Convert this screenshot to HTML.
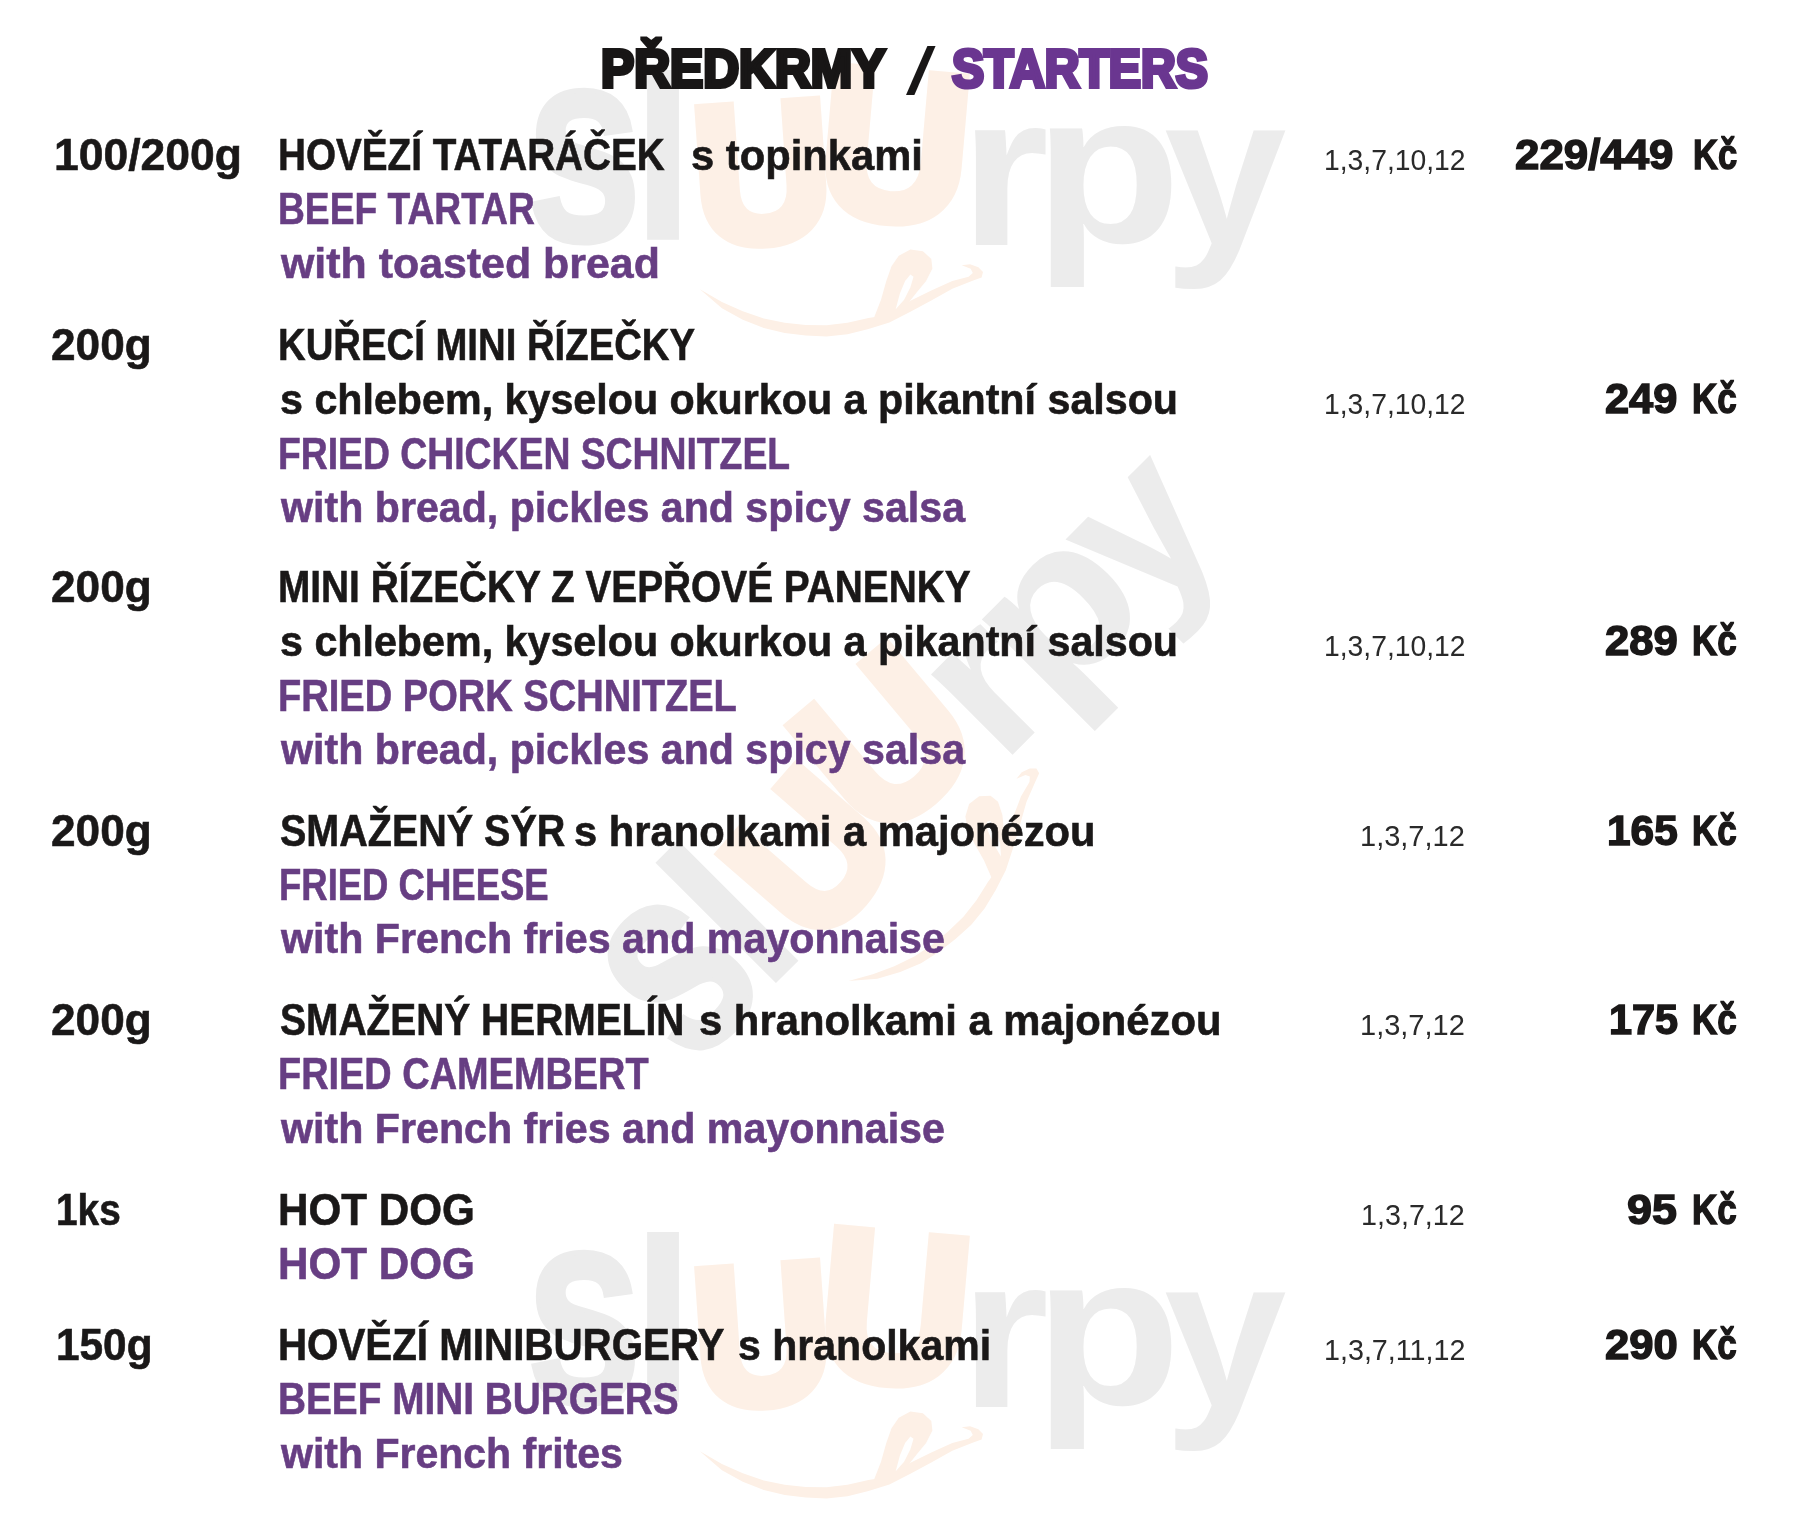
<!DOCTYPE html>
<html lang="cs">
<head>
<meta charset="utf-8">
<title>Předkrmy / Starters</title>
<style>
html,body{margin:0;padding:0;background:#fff}
body{width:1806px;height:1528px;position:relative;overflow:hidden;font-family:"Liberation Sans",sans-serif}
.i{position:absolute;white-space:pre;line-height:1;transform-origin:0 0;font-weight:700;margin:0}
.n,.nl,.w,.pr{color:#1a1818}
.p,.pl{color:#673e83}
.n,.nl{-webkit-text-stroke:0.6px #1a1818}
.p,.pl{-webkit-text-stroke:0.6px #673e83}
.a{color:#2a2a2a;font-weight:400}
.t,.ts{color:#181616;-webkit-text-stroke:4.2px #181616}
.ts{-webkit-text-stroke:0;font-weight:400}
.tp{color:#6a3690;-webkit-text-stroke:4.2px #6a3690}
.pr{-webkit-text-stroke:1.5px #1a1818}
.w{-webkit-text-stroke:0.6px #1a1818}
#txt{position:absolute;left:0;top:0;width:1806px;height:1528px;filter:blur(0.55px)}
.g{position:absolute;white-space:pre;line-height:1;transform-origin:0 0;font-weight:700;font-family:"Liberation Sans",sans-serif;margin:0}.up{text-transform:uppercase}.gr{position:absolute;left:0;top:0;width:0;height:0;display:block}.wm{position:absolute;width:760px;height:300px;transform-origin:380px 137px}.sm{position:absolute;left:0;top:0;overflow:visible}</style>
</head>
<body>
<div class="wm" style="left:531px;top:58px;transform:rotate(0deg)"><span class="g" style="left:-5.06px;top:-54.31px;font-size:288px;color:#ececec;-webkit-text-stroke:5px #ececec;transform:scale(0.7222,0.9691)">s</span><span class="g" style="left:99.53px;top:-16.52px;font-size:239px;color:#ececec;transform:scale(0.9688,0.9828)">l</span><span class="gr" style="transform-origin:231.0px 116.5px;transform:rotate(-4.0deg)"><span class="g up" style="left:162.71px;top:17.47px;font-size:215px;color:#fdf0e6;-webkit-text-stroke:14px #fdf0e6;transform:scale(0.8811,0.9085)">u</span></span><span class="gr" style="transform-origin:364.5px 89.0px;transform:rotate(5.0deg)"><span class="g up" style="left:289.10px;top:-17.78px;font-size:225px;color:#fdf0e6;-webkit-text-stroke:12px #fdf0e6;transform:scale(0.9252,0.9408)">u</span></span><span class="g" style="left:428.56px;top:3.70px;font-size:222px;color:#ececec;transform:scale(1.0294,0.9750)">r</span><span class="g" style="left:503.33px;top:1.34px;font-size:222px;color:#ececec;transform:scale(1.0847,0.9729)">p</span><span class="g" style="left:633.02px;top:4.13px;font-size:222px;color:#ececec;transform:scale(0.9917,0.9695)">y</span><svg class="sm" width="760" height="300" viewBox="0 0 760 300" aria-hidden="true"><polygon points="168.9,231.3 190.9,250.2 211.8,261.7 232.8,270.1 253.7,274.9 274.7,277.4 295.6,278.4 316.5,276.3 337.5,271.1 358.4,264.4 379.4,253.7 400.3,242.4 421.3,230.7 442.2,222.5 450.6,219.4 452.0,214.1 447.4,209.3 439.1,206.2 430.7,207.2 439.7,210.8 441.8,215.0 437.6,218.7 421.3,222.9 400.3,232.4 379.4,242.8 368.9,249.1 358.4,254.3 343.8,259.0 337.5,260.0 316.5,264.8 295.6,267.3 274.7,266.9 253.7,264.8 232.8,260.6 211.8,253.3 190.9,243.9" fill="#fdf0e6"/><polygon points="342.7,260.6 350.0,241.8 355.3,222.9 360.5,208.3 367.8,197.8 379.4,191.5 391.9,193.2 400.3,200.9 401.4,210.4 395.1,222.9 385.6,234.5 377.3,244.9 368.9,252.3 358.4,259.6" fill="#fdf0e6"/><polygon points="364.7,251.2 368.9,235.5 374.1,222.9 379.4,216.6 382.5,218.7 379.4,229.2 373.1,241.8" fill="#fff"/></svg></div>
<div class="wm" style="left:551px;top:628px;transform:rotate(-45deg)"><span class="g" style="left:-5.06px;top:-54.31px;font-size:288px;color:#ececec;-webkit-text-stroke:5px #ececec;transform:scale(0.7222,0.9691)">s</span><span class="g" style="left:99.53px;top:-16.52px;font-size:239px;color:#ececec;transform:scale(0.9688,0.9828)">l</span><span class="gr" style="transform-origin:231.0px 116.5px;transform:rotate(-4.0deg)"><span class="g up" style="left:162.71px;top:17.47px;font-size:215px;color:#fdf0e6;-webkit-text-stroke:14px #fdf0e6;transform:scale(0.8811,0.9085)">u</span></span><span class="gr" style="transform-origin:364.5px 89.0px;transform:rotate(5.0deg)"><span class="g up" style="left:289.10px;top:-17.78px;font-size:225px;color:#fdf0e6;-webkit-text-stroke:12px #fdf0e6;transform:scale(0.9252,0.9408)">u</span></span><span class="g" style="left:428.56px;top:3.70px;font-size:222px;color:#ececec;transform:scale(1.0294,0.9750)">r</span><span class="g" style="left:503.33px;top:1.34px;font-size:222px;color:#ececec;transform:scale(1.0847,0.9729)">p</span><span class="g" style="left:633.02px;top:4.13px;font-size:222px;color:#ececec;transform:scale(0.9917,0.9695)">y</span><svg class="sm" width="760" height="300" viewBox="0 0 760 300" aria-hidden="true"><polygon points="168.9,231.3 190.9,250.2 211.8,261.7 232.8,270.1 253.7,274.9 274.7,277.4 295.6,278.4 316.5,276.3 337.5,271.1 358.4,264.4 379.4,253.7 400.3,242.4 421.3,230.7 442.2,222.5 450.6,219.4 452.0,214.1 447.4,209.3 439.1,206.2 430.7,207.2 439.7,210.8 441.8,215.0 437.6,218.7 421.3,222.9 400.3,232.4 379.4,242.8 368.9,249.1 358.4,254.3 343.8,259.0 337.5,260.0 316.5,264.8 295.6,267.3 274.7,266.9 253.7,264.8 232.8,260.6 211.8,253.3 190.9,243.9" fill="#fdf0e6"/><polygon points="342.7,260.6 350.0,241.8 355.3,222.9 360.5,208.3 367.8,197.8 379.4,191.5 391.9,193.2 400.3,200.9 401.4,210.4 395.1,222.9 385.6,234.5 377.3,244.9 368.9,252.3 358.4,259.6" fill="#fdf0e6"/><polygon points="364.7,251.2 368.9,235.5 374.1,222.9 379.4,216.6 382.5,218.7 379.4,229.2 373.1,241.8" fill="#fff"/></svg></div>
<div class="wm" style="left:531px;top:1220px;transform:rotate(0deg)"><span class="g" style="left:-5.06px;top:-54.31px;font-size:288px;color:#ececec;-webkit-text-stroke:5px #ececec;transform:scale(0.7222,0.9691)">s</span><span class="g" style="left:99.53px;top:-16.52px;font-size:239px;color:#ececec;transform:scale(0.9688,0.9828)">l</span><span class="gr" style="transform-origin:231.0px 116.5px;transform:rotate(-4.0deg)"><span class="g up" style="left:162.71px;top:17.47px;font-size:215px;color:#fdf0e6;-webkit-text-stroke:14px #fdf0e6;transform:scale(0.8811,0.9085)">u</span></span><span class="gr" style="transform-origin:364.5px 89.0px;transform:rotate(5.0deg)"><span class="g up" style="left:289.10px;top:-17.78px;font-size:225px;color:#fdf0e6;-webkit-text-stroke:12px #fdf0e6;transform:scale(0.9252,0.9408)">u</span></span><span class="g" style="left:428.56px;top:3.70px;font-size:222px;color:#ececec;transform:scale(1.0294,0.9750)">r</span><span class="g" style="left:503.33px;top:1.34px;font-size:222px;color:#ececec;transform:scale(1.0847,0.9729)">p</span><span class="g" style="left:633.02px;top:4.13px;font-size:222px;color:#ececec;transform:scale(0.9917,0.9695)">y</span><svg class="sm" width="760" height="300" viewBox="0 0 760 300" aria-hidden="true"><polygon points="168.9,231.3 190.9,250.2 211.8,261.7 232.8,270.1 253.7,274.9 274.7,277.4 295.6,278.4 316.5,276.3 337.5,271.1 358.4,264.4 379.4,253.7 400.3,242.4 421.3,230.7 442.2,222.5 450.6,219.4 452.0,214.1 447.4,209.3 439.1,206.2 430.7,207.2 439.7,210.8 441.8,215.0 437.6,218.7 421.3,222.9 400.3,232.4 379.4,242.8 368.9,249.1 358.4,254.3 343.8,259.0 337.5,260.0 316.5,264.8 295.6,267.3 274.7,266.9 253.7,264.8 232.8,260.6 211.8,253.3 190.9,243.9" fill="#fdf0e6"/><polygon points="342.7,260.6 350.0,241.8 355.3,222.9 360.5,208.3 367.8,197.8 379.4,191.5 391.9,193.2 400.3,200.9 401.4,210.4 395.1,222.9 385.6,234.5 377.3,244.9 368.9,252.3 358.4,259.6" fill="#fdf0e6"/><polygon points="364.7,251.2 368.9,235.5 374.1,222.9 379.4,216.6 382.5,218.7 379.4,229.2 373.1,241.8" fill="#fff"/></svg></div>
<div id="txt">
<div class="i t" style="left:601.06px;top:41.50px;font-size:53px;transform:scaleX(0.9377)">PŘEDKRMY</div>
<div class="i ts" style="left:906.00px;top:38.00px;font-size:66px;transform:scaleX(1.6111)">/</div>
<div class="i tp" style="left:951.91px;top:41.50px;font-size:53px;transform:scaleX(0.9081)">STARTERS</div>
<div class="i w" style="left:53.96px;top:134.00px;font-size:43.5px;transform:scaleX(1.0223)">100/200g</div>
<div class="i w" style="left:51.48px;top:323.50px;font-size:43.5px;transform:scaleX(1.0156)">200g</div>
<div class="i w" style="left:51.48px;top:566.00px;font-size:43.5px;transform:scaleX(1.0156)">200g</div>
<div class="i w" style="left:51.48px;top:810.00px;font-size:43.5px;transform:scaleX(1.0156)">200g</div>
<div class="i w" style="left:51.48px;top:999.00px;font-size:43.5px;transform:scaleX(1.0156)">200g</div>
<div class="i w" style="left:55.72px;top:1189.00px;font-size:43.5px;transform:scaleX(0.8913)">1ks</div>
<div class="i w" style="left:55.55px;top:1324.00px;font-size:43.5px;transform:scaleX(0.9737)">150g</div>
<div class="i n" style="left:278.39px;top:133.00px;font-size:44.5px;transform:scaleX(0.8688)">HOVĚZÍ TATARÁČEK</div>
<div class="i nl" style="left:691.03px;top:134.00px;font-size:43px;transform:scaleX(0.9702)">s topinkami</div>
<div class="i p" style="left:278.49px;top:186.50px;font-size:44.5px;transform:scaleX(0.8355)">BEEF TARTAR</div>
<div class="i pl" style="left:281.00px;top:241.50px;font-size:43px;transform:scaleX(0.9973)">with toasted bread</div>
<div class="i n" style="left:278.42px;top:322.50px;font-size:44.5px;transform:scaleX(0.8607)">KUŘECÍ MINI ŘÍZEČKY</div>
<div class="i nl" style="left:280.04px;top:378.00px;font-size:43px;transform:scaleX(0.9587)">s chlebem, kyselou okurkou a pikantní salsou</div>
<div class="i p" style="left:278.48px;top:431.50px;font-size:44.5px;transform:scaleX(0.8386)">FRIED CHICKEN SCHNITZEL</div>
<div class="i pl" style="left:281.00px;top:485.50px;font-size:43px;transform:scaleX(0.9573)">with bread, pickles and spicy salsa</div>
<div class="i n" style="left:278.38px;top:565.00px;font-size:44.5px;transform:scaleX(0.8717)">MINI ŘÍZEČKY Z VEPŘOVÉ PANENKY</div>
<div class="i nl" style="left:280.04px;top:620.00px;font-size:43px;transform:scaleX(0.9587)">s chlebem, kyselou okurkou a pikantní salsou</div>
<div class="i p" style="left:278.43px;top:673.50px;font-size:44.5px;transform:scaleX(0.8553)">FRIED PORK SCHNITZEL</div>
<div class="i pl" style="left:281.00px;top:728.00px;font-size:43px;transform:scaleX(0.9573)">with bread, pickles and spicy salsa</div>
<div class="i n" style="left:280.11px;top:809.00px;font-size:44.5px;transform:scaleX(0.8875)">SMAŽENÝ SÝR</div>
<div class="i nl" style="left:574.03px;top:810.00px;font-size:43px;transform:scaleX(0.9700)">s hranolkami a majonézou</div>
<div class="i p" style="left:278.54px;top:862.50px;font-size:44.5px;transform:scaleX(0.8200)">FRIED CHEESE</div>
<div class="i pl" style="left:281.00px;top:916.50px;font-size:43px;transform:scaleX(0.9581)">with French fries and mayonnaise</div>
<div class="i n" style="left:280.13px;top:998.00px;font-size:44.5px;transform:scaleX(0.8747)">SMAŽENÝ HERMELÍN</div>
<div class="i nl" style="left:699.03px;top:999.00px;font-size:43px;transform:scaleX(0.9719)">s hranolkami a majonézou</div>
<div class="i p" style="left:278.44px;top:1052.00px;font-size:44.5px;transform:scaleX(0.8519)">FRIED CAMEMBERT</div>
<div class="i pl" style="left:281.00px;top:1106.50px;font-size:43px;transform:scaleX(0.9581)">with French fries and mayonnaise</div>
<div class="i n" style="left:278.16px;top:1188.00px;font-size:44.5px;transform:scaleX(0.9480)">HOT DOG</div>
<div class="i p" style="left:278.16px;top:1242.00px;font-size:44.5px;transform:scaleX(0.9480)">HOT DOG</div>
<div class="i n" style="left:278.28px;top:1323.00px;font-size:44.5px;transform:scaleX(0.9059)">HOVĚZÍ MINIBURGERY</div>
<div class="i nl" style="left:738.05px;top:1324.00px;font-size:43px;transform:scaleX(0.9542)">s hranolkami</div>
<div class="i p" style="left:278.39px;top:1376.50px;font-size:44.5px;transform:scaleX(0.8714)">BEEF MINI BURGERS</div>
<div class="i pl" style="left:281.00px;top:1431.50px;font-size:43px;transform:scaleX(0.9538)">with French frites</div>
<div class="i a" style="left:1323.55px;top:146.00px;font-size:29px;transform:scaleX(0.9754)">1,3,7,10,12</div>
<div class="i a" style="left:1323.55px;top:390.00px;font-size:29px;transform:scaleX(0.9754)">1,3,7,10,12</div>
<div class="i a" style="left:1323.55px;top:632.00px;font-size:29px;transform:scaleX(0.9754)">1,3,7,10,12</div>
<div class="i a" style="left:1360.00px;top:822.00px;font-size:29px;transform:scaleX(1.0000)">1,3,7,12</div>
<div class="i a" style="left:1360.00px;top:1011.00px;font-size:29px;transform:scaleX(1.0000)">1,3,7,12</div>
<div class="i a" style="left:1361.02px;top:1201.00px;font-size:29px;transform:scaleX(0.9902)">1,3,7,12</div>
<div class="i a" style="left:1323.52px;top:1336.00px;font-size:29px;transform:scaleX(0.9893)">1,3,7,11,12</div>
<div class="i pr" style="left:1515.48px;top:133.00px;font-size:43px;transform:scaleX(1.0195)">229/449</div>
<div class="i pr" style="left:1605.39px;top:377.00px;font-size:43px;transform:scaleX(1.0086)">249</div>
<div class="i pr" style="left:1604.99px;top:619.00px;font-size:43px;transform:scaleX(1.0143)">289</div>
<div class="i pr" style="left:1607.03px;top:809.00px;font-size:43px;transform:scaleX(0.9855)">165</div>
<div class="i pr" style="left:1608.57px;top:998.00px;font-size:43px;transform:scaleX(0.9638)">175</div>
<div class="i pr" style="left:1626.96px;top:1188.00px;font-size:43px;transform:scaleX(1.0426)">95</div>
<div class="i pr" style="left:1604.99px;top:1323.00px;font-size:43px;transform:scaleX(1.0143)">290</div>
<div class="i pr" style="left:1692.90px;top:133.00px;font-size:43px;transform:scaleX(0.8019)">Kč</div>
<div class="i pr" style="left:1692.38px;top:377.00px;font-size:43px;transform:scaleX(0.8113)">Kč</div>
<div class="i pr" style="left:1692.38px;top:619.00px;font-size:43px;transform:scaleX(0.8113)">Kč</div>
<div class="i pr" style="left:1692.38px;top:809.00px;font-size:43px;transform:scaleX(0.8113)">Kč</div>
<div class="i pr" style="left:1692.38px;top:998.00px;font-size:43px;transform:scaleX(0.8113)">Kč</div>
<div class="i pr" style="left:1692.38px;top:1188.00px;font-size:43px;transform:scaleX(0.8113)">Kč</div>
<div class="i pr" style="left:1692.38px;top:1323.00px;font-size:43px;transform:scaleX(0.8113)">Kč</div>
</div>
</body>
</html>
